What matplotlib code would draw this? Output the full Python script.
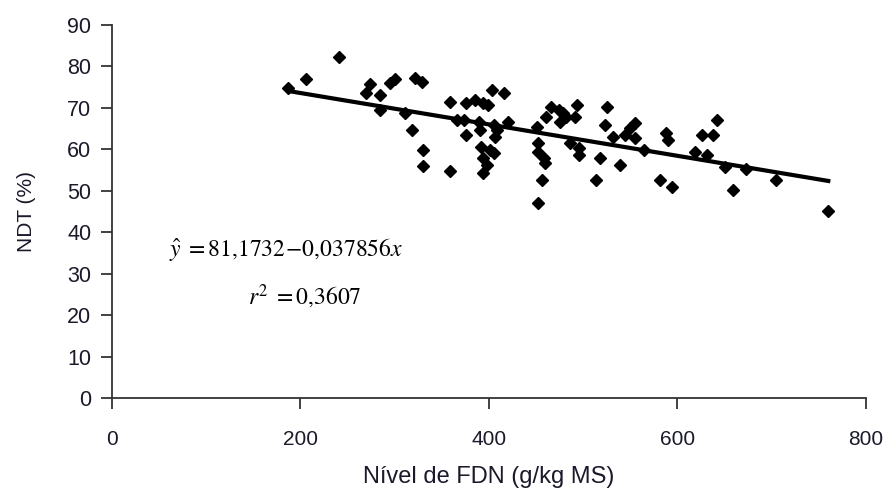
import matplotlib
matplotlib.use("Agg")
import numpy as np
import matplotlib.pyplot as plt

# FDN level (g/kg MS) and NDT (%)
fdn = [187, 206, 241, 274, 270, 284, 284, 295, 300, 322, 329, 311, 318, 330, 330,
       359, 359, 366, 376, 385, 394, 399, 403, 416, 373, 389, 390, 405, 408, 406,
       376, 392, 401, 405, 394, 398, 394, 420, 452, 452, 458, 459, 456, 452, 451,
       461, 466, 474, 479, 475, 482, 491, 493, 486, 495, 495, 525, 523, 518, 514,
       532, 544, 539, 555, 550, 555, 564, 581, 594, 588, 590, 619, 631, 626, 638,
       642, 650, 659, 673, 705, 760]
ndt = [74.7, 77.1, 82.4, 75.8, 73.5, 73.1, 69.5, 75.9, 76.9, 77.3, 76.3, 68.7, 64.7, 59.9, 55.9,
       71.5, 54.9, 67.1, 71.1, 71.9, 71.1, 70.7, 74.3, 73.5, 67.1, 66.7, 64.7, 65.9, 64.7, 63.1,
       63.5, 60.7, 59.9, 59.1, 57.9, 56.2, 54.2, 66.6, 61.5, 59.5, 57.9, 56.7, 52.6, 47.1, 65.5,
       67.9, 70.3, 69.5, 68.7, 66.7, 67.9, 67.9, 70.7, 61.5, 60.3, 58.7, 70.3, 65.9, 57.9, 52.6,
       63.1, 63.5, 56.2, 66.3, 65.1, 62.7, 59.9, 52.6, 51.0, 63.9, 62.3, 59.5, 58.7, 63.5, 63.5,
       67.1, 55.8, 50.2, 55.4, 52.6, 45.2]

# fitted regression (from the equation printed on the chart)
intercept = 81.1732
slope = -0.037856
r2 = 0.3607

xticks = [0, 200, 400, 600, 800]
yticks = list(range(0, 100, 10))

plt.rcParams['font.family'] = ['Liberation Sans', 'DejaVu Sans']
plt.rcParams['mathtext.fontset'] = 'stix'

fig = plt.figure(figsize=(8.84, 4.97), dpi=100)
ax = fig.add_axes([0.1267, 0.1986, 0.8529, 0.7511])

ax.plot(fdn, ndt, 'D', color='black', markersize=6.3, zorder=3)

line_x = np.array([min(fdn), max(fdn)])
ax.plot(line_x, intercept + slope * line_x, color='black', linewidth=3, zorder=2)

ax.set_xlim(0, 800)
ax.set_ylim(0, 90)
ax.set_xticks(xticks)
ax.set_yticks(yticks)

for side in ['top', 'right']:
    ax.spines[side].set_visible(False)
for side in ['left', 'bottom']:
    ax.spines[side].set_color('#333333')
    ax.spines[side].set_linewidth(1.3)

ax.tick_params(axis='both', direction='out', length=8, width=1.3, color='#333333',
               labelcolor='#1a1a2a')
ax.tick_params(axis='x', pad=15, labelsize=15)
ax.tick_params(axis='y', pad=7, labelsize=15.5)

ax.set_xlabel('Nível de FDN (g/kg MS)', fontsize=17, color='#1a1a2a', labelpad=12)
ax.set_ylabel('NDT (%)', fontsize=15, color='#1a1a2a', labelpad=22)

eq = r'$\hat{y}\;=81{,}1732\!-\!0{,}037856x$'
ax.text(61, 35.8, eq, fontsize=17, ha='left', va='center')
ax.text(144, 24.4, r'$r^{2}\;=0{,}%s$' % str(r2).split('.')[1], fontsize=17,
        ha='left', va='center')

fig.savefig('out.png', dpi=100)
